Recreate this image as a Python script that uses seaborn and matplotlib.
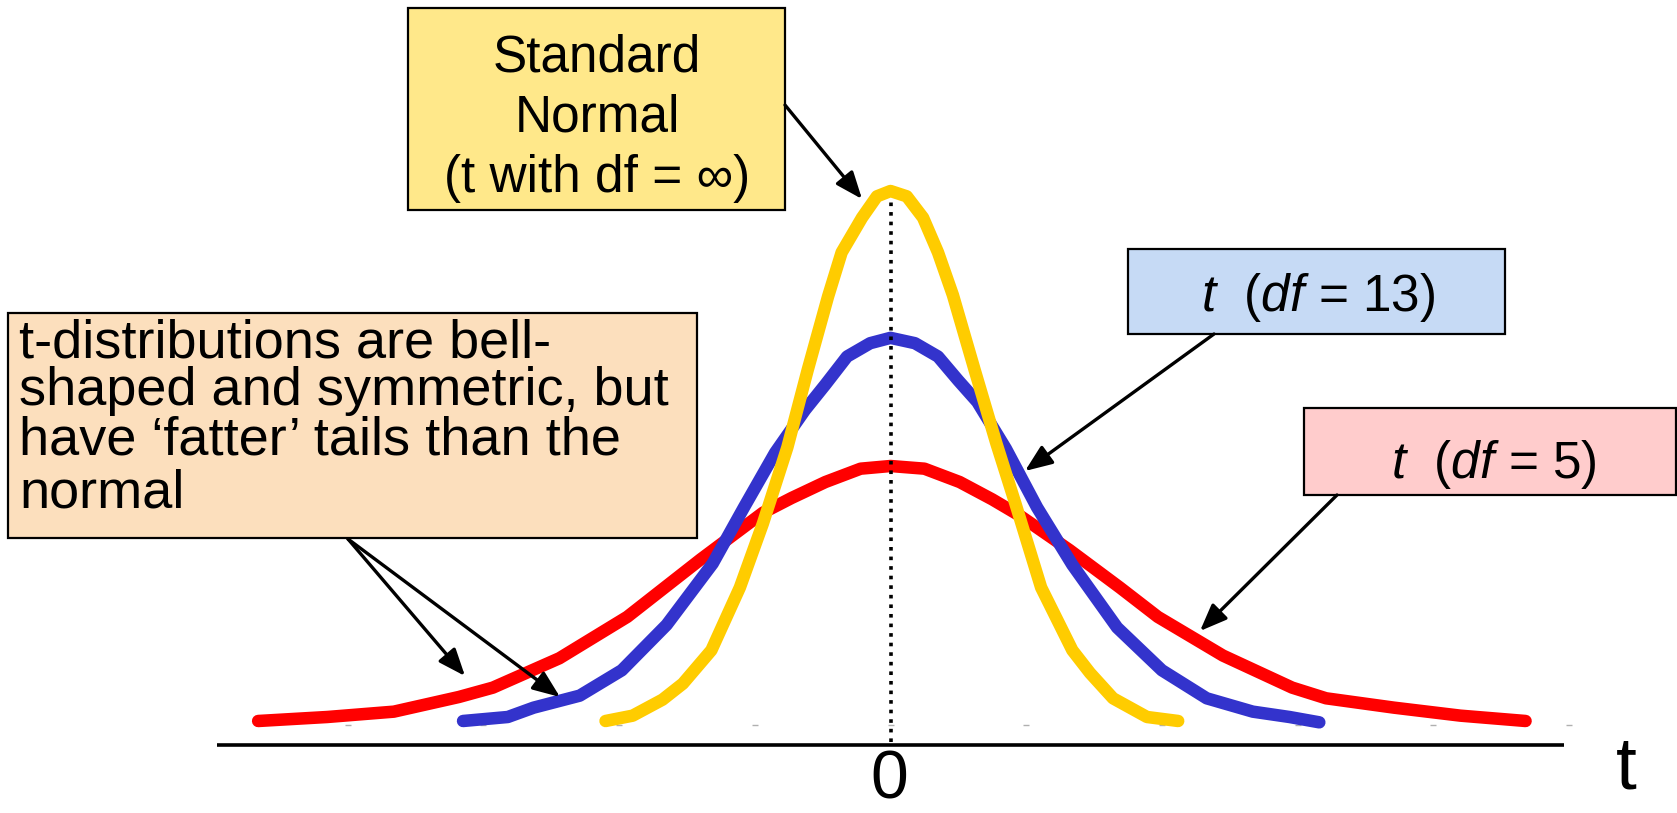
import numpy as np
import pandas as pd
import matplotlib.pyplot as plt
import seaborn as sns
from matplotlib.patches import Rectangle

# curve values (t, height)
normal_t = [-2.10, -1.90, -1.68, -1.53, -1.32, -1.11, -0.94, -0.76, -0.61, -0.46, -0.36, -0.21, -0.10,
            0.00, 0.12, 0.24, 0.35, 0.46, 0.62, 0.78, 0.92, 1.11, 1.34, 1.47, 1.64, 1.89, 2.12]
normal_y = [0.003, 0.007, 0.019, 0.031, 0.056, 0.103, 0.151, 0.208, 0.266, 0.321, 0.354, 0.380, 0.396,
            0.400, 0.396, 0.380, 0.354, 0.322, 0.266, 0.211, 0.166, 0.103, 0.056, 0.039, 0.020, 0.006, 0.003]

df13_t = [-3.15, -2.82, -2.63, -2.29, -1.98, -1.65, -1.31, -1.08, -0.85, -0.63, -0.48, -0.32, -0.15,
          0.00, 0.18, 0.35, 0.50, 0.64, 0.85, 1.08, 1.34, 1.67, 2.00, 2.33, 2.67, 2.94, 3.16]
df13_y = [0.003, 0.006, 0.013, 0.022, 0.041, 0.075, 0.121, 0.163, 0.204, 0.236, 0.255, 0.276, 0.286,
          0.290, 0.286, 0.276, 0.258, 0.242, 0.207, 0.163, 0.120, 0.073, 0.041, 0.020, 0.010, 0.006, 0.002]

df5_t = [-4.66, -4.15, -3.66, -3.18, -2.93, -2.44, -1.94, -1.40, -0.94, -0.73, -0.48, -0.22,
         0.00, 0.25, 0.51, 0.75, 0.95, 1.32, 1.69, 1.97, 2.45, 2.96, 3.21, 3.71, 4.20, 4.68]
df5_y = [0.003, 0.006, 0.010, 0.021, 0.028, 0.050, 0.081, 0.124, 0.159, 0.170, 0.182, 0.192,
         0.194, 0.192, 0.182, 0.169, 0.157, 0.131, 0.103, 0.081, 0.052, 0.028, 0.020, 0.013, 0.007, 0.003]

tick_t = [-4, -3, -2, -1, 0, 1, 2, 3, 4, 5]

curve_order = ["df5", "df13", "normal"]
curve_colors = {"df5": "#ff0000", "df13": "#3333cc", "normal": "#ffcc00"}

df = pd.concat([
    pd.DataFrame({"t": df5_t, "density": df5_y, "curve": "df5"}),
    pd.DataFrame({"t": df13_t, "density": df13_y, "curve": "df13"}),
    pd.DataFrame({"t": normal_t, "density": normal_y, "curve": "normal"}),
])

sns.set_style("white")
plt.rcParams["font.family"] = ["Liberation Sans", "DejaVu Sans"]
plt.rcParams["text.color"] = "black"
plt.rcParams["mathtext.fontset"] = "custom"
plt.rcParams["mathtext.rm"] = "Liberation Sans"
plt.rcParams["mathtext.it"] = "Liberation Sans:italic"

W, H = 1677, 813
X0, XS = 890.5, 135.7   # pixel of t=0, pixels per unit
Y0, YS = 725, 1335      # pixel of density 0, pixels per unit


def P(x, y):
    # image pixel (top-left origin) -> data coords
    return ((x - X0) / XS, (Y0 - y) / YS)


fig = plt.figure(figsize=(W / 100, H / 100), dpi=100)
ax = fig.add_axes([0, 0, 1, 1])
ax.set_xlim(P(0, 0)[0], P(W, 0)[0])
ax.set_ylim(P(0, H)[1], P(0, 0)[1])
ax.axis("off")

sns.lineplot(data=df, x="t", y="density", hue="curve", hue_order=curve_order,
             palette=curve_colors, estimator=None, sort=False,
             legend=False, ax=ax, zorder=3)
# width of the curves, set on the drawn lines
for line in ax.get_lines():
    line.set_linewidth(9)
    line.set_solid_capstyle("round")
    line.set_solid_joinstyle("round")

# faint tick dashes on the zero line
ax.plot(tick_t, np.zeros(len(tick_t)), ls="none", marker="_", ms=4, mew=1, color="#b0b0b0", zorder=1)

# horizontal axis and centre line
ax.hlines(P(0, 745)[1], P(217, 0)[0], P(1564, 0)[0], color="black", lw=2.6, zorder=2)
ax.vlines(0, P(0, 742)[1], P(0, 200)[1], color="black", lw=2.6, linestyles=":", zorder=5)

ax.text(*P(889, 798), "0", fontsize=49, ha="center", va="baseline")
ax.text(*P(1626, 788), "t", fontsize=54, ha="center", va="baseline")


def box(x0, y0, x1, y1, fc):
    xy = P(x0, y1)
    ax.add_patch(Rectangle(xy, (x1 - x0) / XS, (y1 - y0) / YS, facecolor=fc,
                           edgecolor="black", lw=1.6, zorder=6))


def arrow(tail, tip):
    ax.annotate("", xy=P(*tip), xytext=P(*tail),
                arrowprops=dict(arrowstyle="-|>,head_length=0.75,head_width=0.3",
                                color="black", lw=2.4, shrinkA=0, shrinkB=0,
                                mutation_scale=22), zorder=7)


# Standard normal label
box(408, 8, 785, 210, "#ffe88a")
for txt, yb in zip(["Standard", "Normal", "(t with df = \u221e)"], [72, 132, 192]):
    ax.text(*P(597, yb), txt, fontsize=37, ha="center", va="baseline", zorder=8)
arrow((785, 105), (862, 199))

# t df=13 label
box(1128, 249, 1505, 334, "#c6daf5")
ax.text(*P(1318, 311), r"$t$  ($df$ = 13)", fontsize=37, ha="center", va="baseline", zorder=8)
arrow((1214, 334), (1025, 471))

# t df=5 label
box(1304, 408, 1676, 495, "#ffcccc")
ax.text(*P(1494, 478), r"$t$  ($df$ = 5)", fontsize=37, ha="center", va="baseline", zorder=8)
arrow((1337, 495), (1200, 631))

# note box
box(8, 313, 697, 538, "#fcdfbd")
note = ["t-distributions are bell-", "shaped and symmetric, but",
        "have \u2018fatter\u2019 tails than the", "normal"]
for txt, yb in zip(note, [357, 405, 454, 507]):
    ax.text(*P(19, yb), txt, fontsize=39, ha="left", va="baseline", zorder=8)
arrow((348, 539), (465, 676))
arrow((348, 539), (560, 697))

fig.savefig("out.png", dpi=100)
